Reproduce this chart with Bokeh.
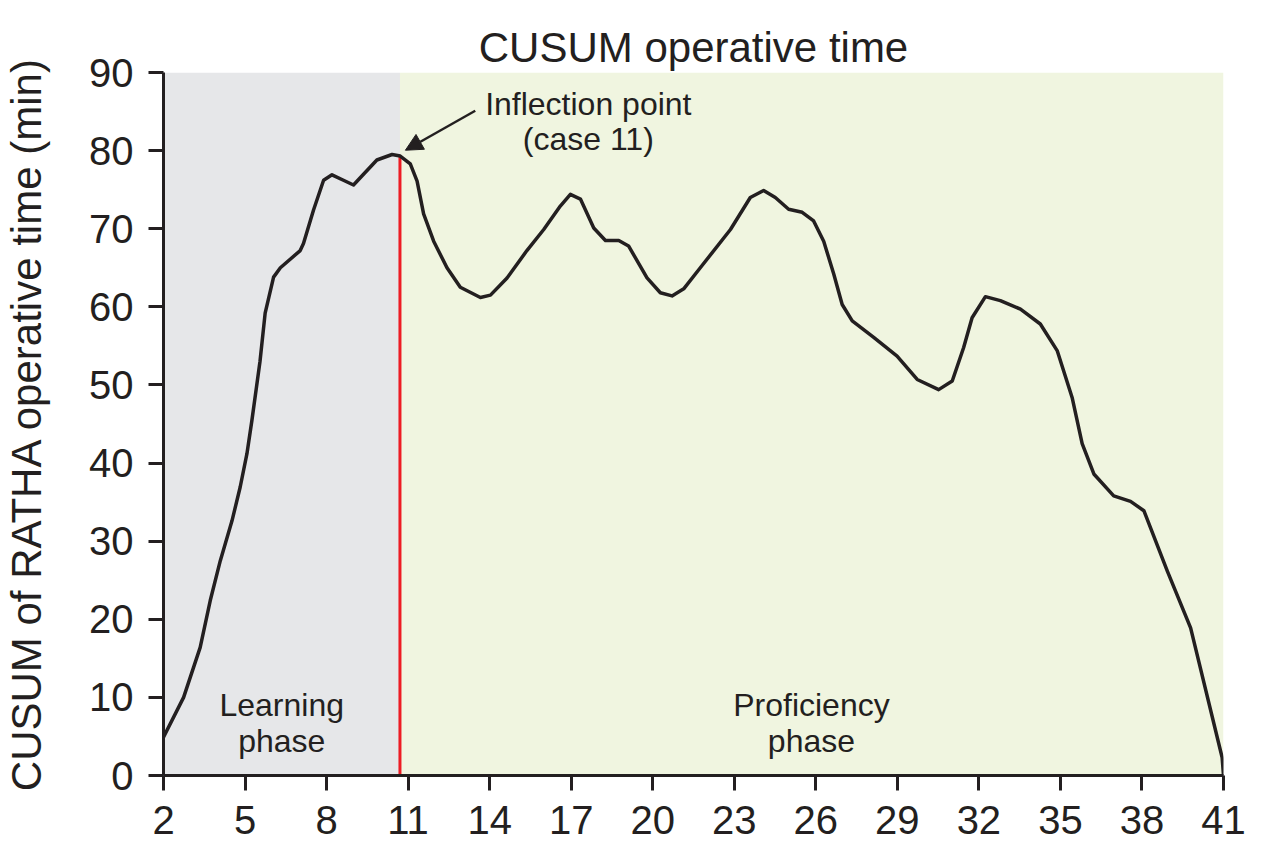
from bokeh.plotting import figure
from bokeh.models import Range1d, FixedTicker, Arrow, NormalHead, Title
from bokeh.core.properties import value
from bokeh.embed import file_html
from bokeh.resources import INLINE

# ---- data ----
case_no = [2.0, 2.74, 3.35, 3.72, 4.09, 4.52, 4.82, 5.07, 5.25, 5.55, 5.74, 6.05, 6.3,
           7.03, 7.15, 7.52, 7.89, 8.2, 8.62, 8.99, 9.23, 9.85, 10.41, 10.71, 11.08,
           11.33, 11.57, 11.94, 12.43, 12.92, 13.66, 14.03, 14.64, 15.37, 15.99, 16.6,
           16.97, 17.34, 17.83, 18.26, 18.75, 19.11, 19.79, 20.28, 20.71, 21.14, 21.75,
           22.86, 23.59, 24.08, 24.51, 25.0, 25.5, 25.92, 26.29, 26.66, 26.97, 27.34,
           28.13, 28.99, 29.73, 30.52, 31.02, 31.44, 31.75, 32.24, 32.79, 33.53, 34.26,
           34.88, 35.43, 35.8, 36.23, 36.96, 37.58, 38.07, 38.93, 39.79, 40.95, 41.0]
cusum_min = [4.9, 10.0, 16.4, 22.4, 27.5, 32.6, 36.9, 41.2, 45.4, 53.0, 59.2, 63.8, 65.0,
             67.2, 68.1, 72.4, 76.2, 76.9, 76.2, 75.6, 76.5, 78.8, 79.5, 79.3, 78.3,
             76.1, 71.9, 68.4, 65.0, 62.5, 61.2, 61.5, 63.7, 67.2, 69.9, 72.9,
             74.4, 73.8, 70.1, 68.5, 68.5, 67.8, 63.7, 61.8, 61.4, 62.3, 65.0,
             69.9, 74.0, 74.9, 74.0, 72.5, 72.1, 71.0, 68.4, 64.2, 60.3, 58.2,
             56.1, 53.7, 50.7, 49.4, 50.5, 54.8, 58.6, 61.3, 60.8, 59.7, 57.8,
             54.4, 48.4, 42.5, 38.6, 35.8, 35.1, 33.9, 26.2, 18.9, 2.3, 0.0]

x_ticks = [2, 5, 8, 11, 14, 17, 20, 23, 26, 29, 32, 35, 38, 41]
y_ticks = [0, 10, 20, 30, 40, 50, 60, 70, 80, 90]

phase_start = [2.0, 10.7]
phase_end = [10.7, 41.0]
phase_colors = ["#E6E7E9", "#F0F5E0"]
inflection_x = 10.7
inflection_y = 79.3

TXT = "#231F20"
FONT = "Liberation Sans"

p = figure(width=1261, height=852, output_backend="svg", toolbar_location=None,
           x_range=Range1d(2, 41), y_range=Range1d(0, 90),
           min_border_left=163, min_border_right=38, min_border_top=72,
           min_border_bottom=77)
p.background_fill_color = "white"
p.border_fill_color = "white"
p.outline_line_color = None
p.grid.visible = False

# invisible spacer next to the frame, then the title further out
p.add_layout(Title(text="|", text_font_size="12px", standoff=6, text_alpha=0), "above")
p.add_layout(Title(text="CUSUM operative time", align="center", vertical_align="top",
                   text_font=FONT, text_font_size="42px", text_font_style="normal",
                   text_color=TXT, standoff=0), "above")

# phase backgrounds
p.quad(left=phase_start, right=phase_end, bottom=0, top=90,
       fill_color=phase_colors, line_color=None)

# inflection line
p.segment(x0=[inflection_x], y0=[0], x1=[inflection_x], y1=[inflection_y],
          line_color="#ED1C24", line_width=3)

# curve
p.line(case_no, cusum_min, line_color=TXT, line_width=3.5, line_join="round",
       line_cap="round")

# arrow
p.add_layout(Arrow(end=NormalHead(size=17, fill_color=TXT, line_color=TXT),
                   x_start=13.47, y_start=85.1, x_end=10.9, y_end=80.05,
                   line_color=TXT, line_width=2.5))

# texts
p.text(x=[17.63, 17.63], y=[86.0, 81.5], text=["Inflection point", "(case 11)"],
       text_font=value(FONT), text_font_size="32px", text_color=TXT,
       text_align="center", text_baseline="middle")
p.text(x=[6.35, 6.35], y=[8.97, 4.48], text=["Learning", "phase"],
       text_font=value(FONT), text_font_size="32px", text_color=TXT,
       text_align="center", text_baseline="middle")
p.text(x=[25.84, 25.84], y=[8.97, 4.48], text=["Proficiency", "phase"],
       text_font=value(FONT), text_font_size="32px", text_color=TXT,
       text_align="center", text_baseline="middle")

# axes
for ax in (p.xaxis[0], p.yaxis[0]):
    ax.axis_line_width = 3
    ax.axis_line_color = TXT
    ax.major_tick_line_width = 3
    ax.major_tick_line_color = TXT
    ax.major_tick_in = 0
    ax.major_tick_out = 15
    ax.minor_tick_line_color = None
    ax.major_label_text_font = FONT
    ax.major_label_text_font_size = "40px"
    ax.major_label_text_color = TXT

p.xaxis.ticker = FixedTicker(ticks=x_ticks)
p.yaxis.ticker = FixedTicker(ticks=y_ticks)
p.xaxis.major_label_standoff = 15
p.yaxis.major_label_standoff = 15

p.yaxis.axis_label = "CUSUM of RATHA operative time (min)"
p.yaxis.axis_label_text_font = FONT
p.yaxis.axis_label_text_font_size = "42px"
p.yaxis.axis_label_text_font_style = "normal"
p.yaxis.axis_label_text_color = TXT
p.yaxis.axis_label_standoff = 36

open("out.html", "w").write(file_html(p, INLINE))
